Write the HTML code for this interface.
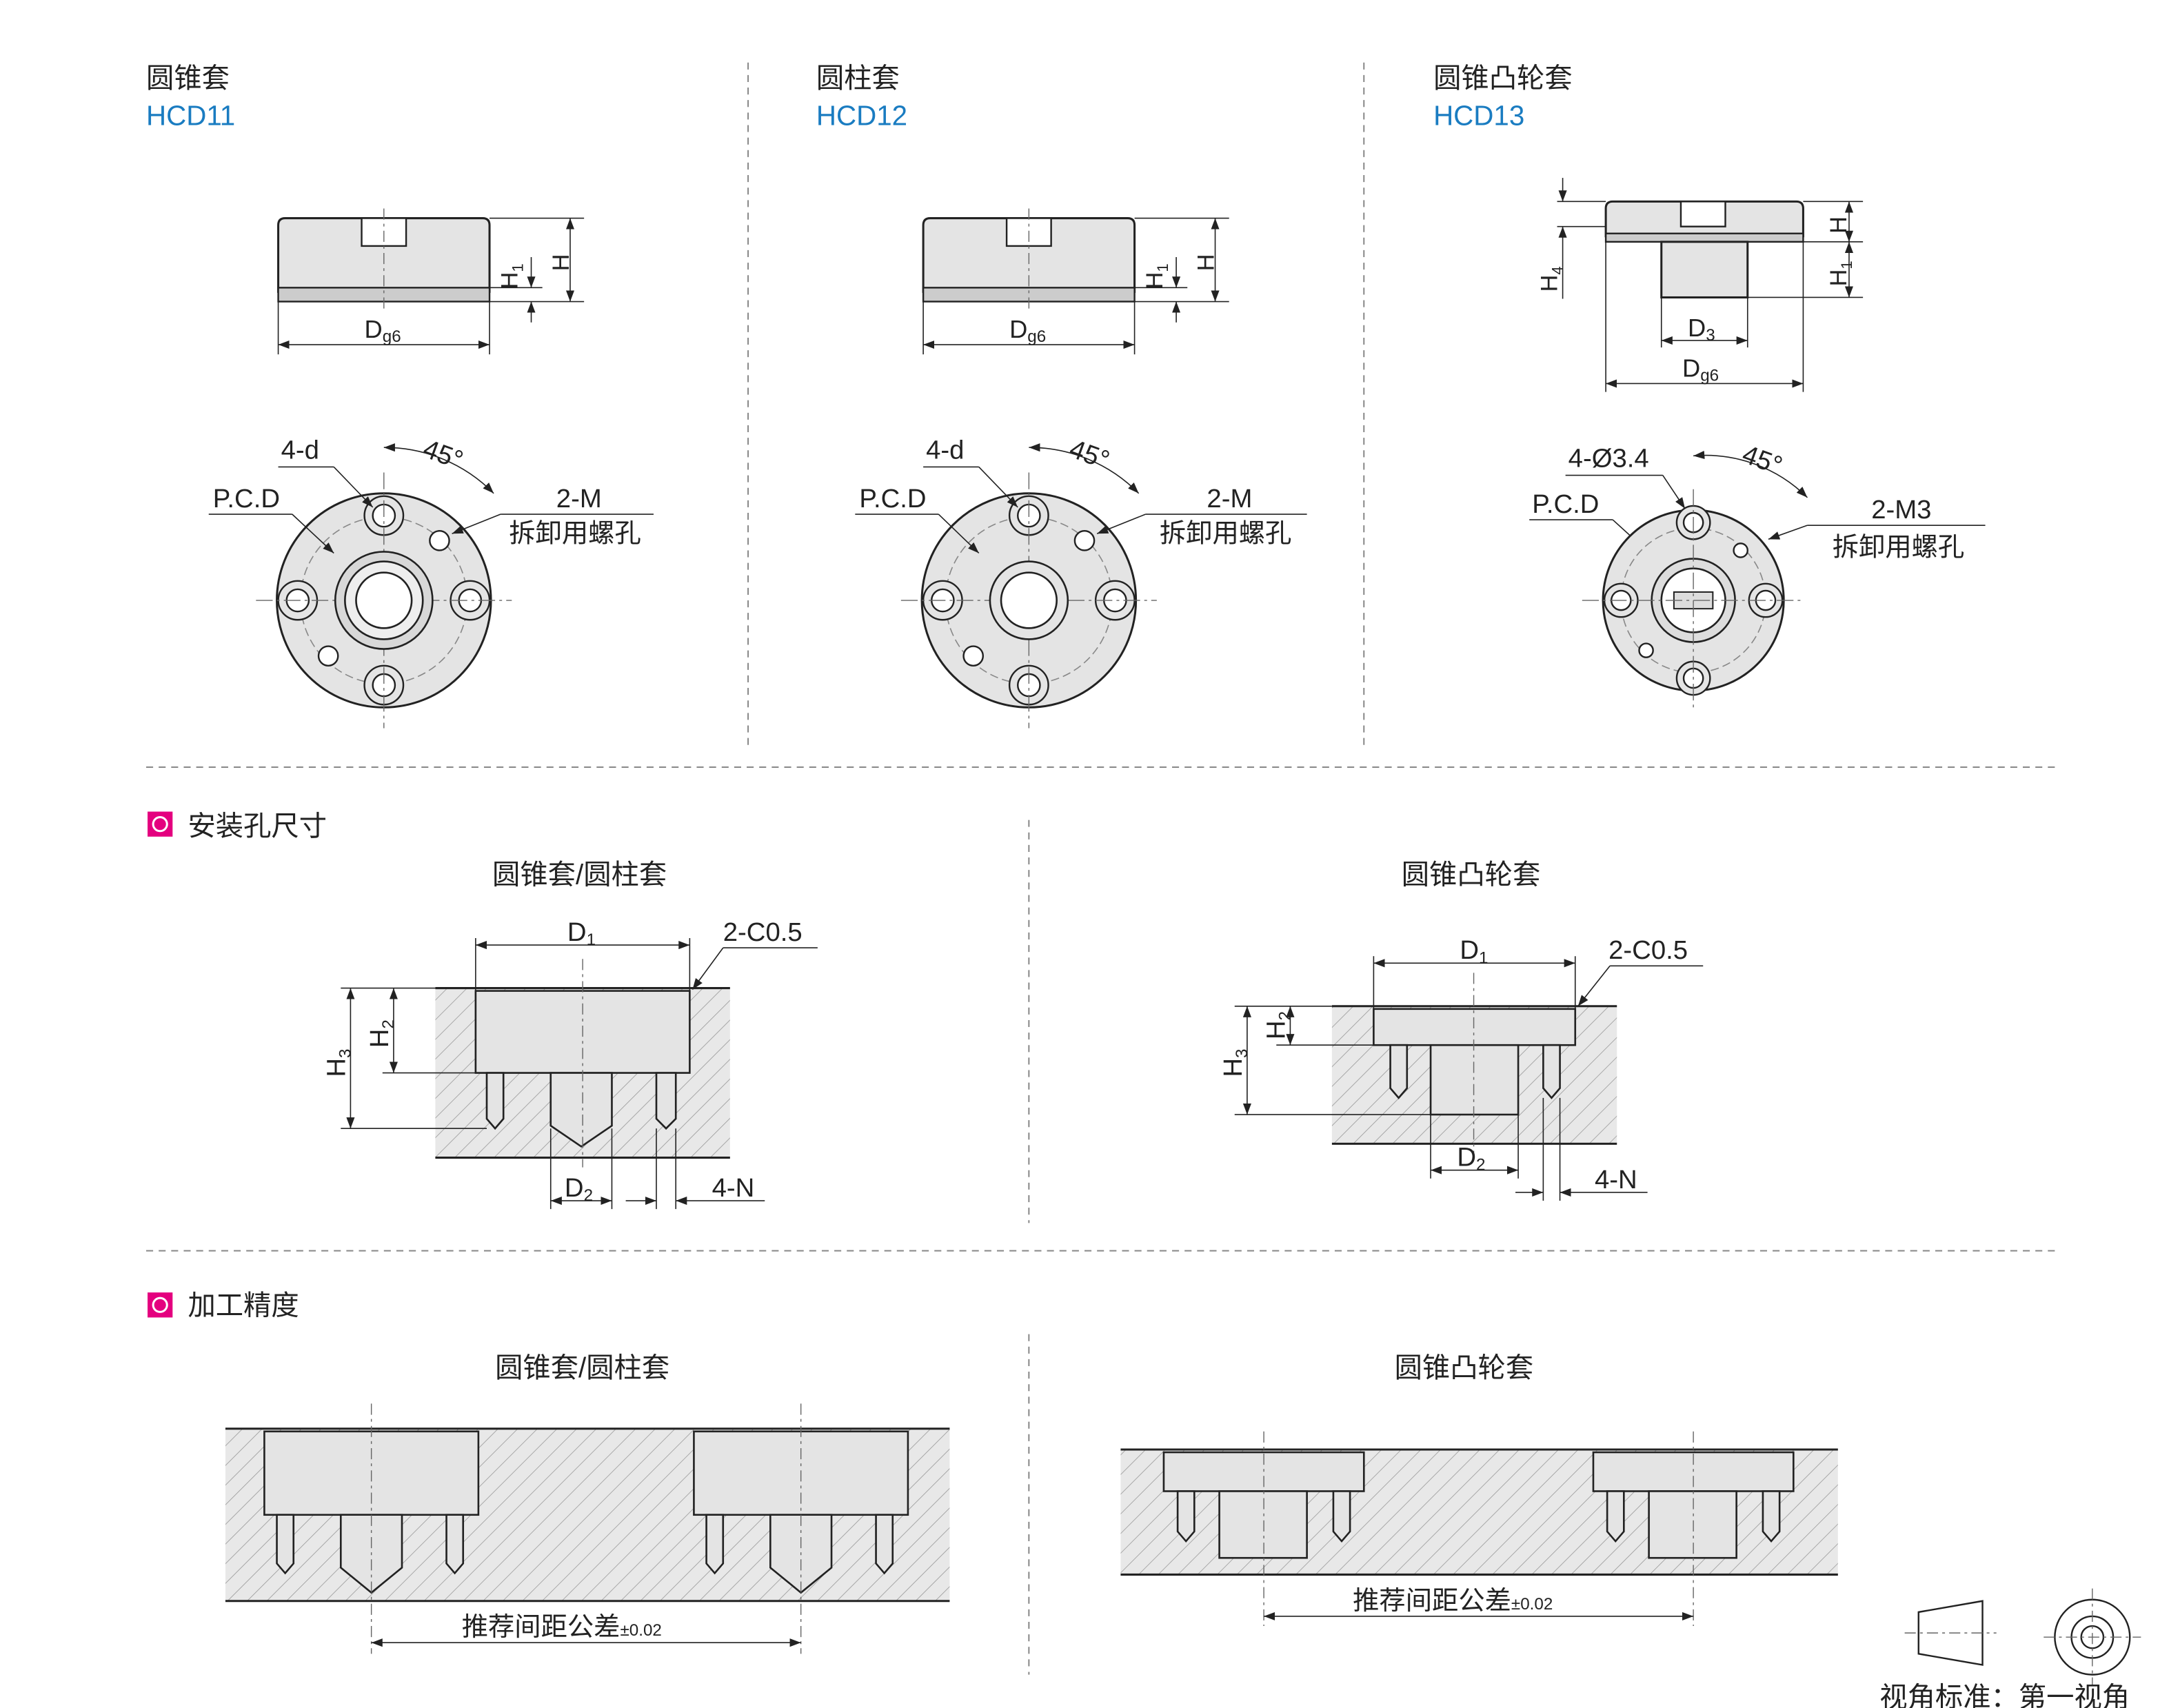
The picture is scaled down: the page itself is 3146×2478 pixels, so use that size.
<!DOCTYPE html>
<html><head><meta charset="utf-8"><style>
html,body{margin:0;padding:0;background:#fff}
svg{display:block}
text{font-family:"Liberation Sans","Noto Sans CJK SC",sans-serif;fill:#222}
</style></head><body>
<svg width="3146" height="2478" viewBox="0 0 1560 1229" xmlns="http://www.w3.org/2000/svg">
<defs>
<pattern id="h" width="10" height="10" patternUnits="userSpaceOnUse" patternTransform="rotate(45)">
<rect width="10" height="10" fill="#e8e8e8"/><line x1="0" y1="0" x2="0" y2="10" stroke="#999" stroke-width="0.8"/></pattern>
<marker id="a" markerWidth="8" markerHeight="6" refX="8" refY="3" orient="auto-start-reverse" markerUnits="userSpaceOnUse"><path d="M0,0L8,3L0,6z" fill="#222"/></marker>
<g id="front">
<circle r="77" fill="#e4e4e4" stroke="#222" stroke-width="1.5"/>
<circle r="60" fill="none" stroke="#888" stroke-dasharray="6 3" stroke-width="0.8"/>
<g fill="#e4e4e4" stroke="#222" stroke-width="1.2">
<circle cx="0" cy="-61" r="14"/><circle cx="0" cy="61" r="14"/><circle cx="-62" cy="0" r="14"/><circle cx="62" cy="0" r="14"/></g>
<g fill="#fff" stroke="#222" stroke-width="1.2">
<circle cx="0" cy="-61" r="8"/><circle cx="0" cy="61" r="8"/><circle cx="-62" cy="0" r="8"/><circle cx="62" cy="0" r="8"/>
<circle cx="40" cy="-43" r="7"/><circle cx="-40" cy="40" r="7"/></g>
<line x1="-92" y1="0" x2="92" y2="0" stroke="#666" stroke-width="0.7" stroke-dasharray="12 3 2 3"/>
<line x1="0" y1="-92" x2="0" y2="92" stroke="#666" stroke-width="0.7" stroke-dasharray="12 3 2 3"/>
</g>
</defs>
<g stroke="#888" stroke-width="1" stroke-dasharray="5 4" fill="none">
<line x1="538" y1="45" x2="538" y2="540"/><line x1="981" y1="45" x2="981" y2="540"/>
<line x1="105" y1="552" x2="1480" y2="552"/><line x1="740" y1="590" x2="740" y2="880"/>
<line x1="105" y1="900" x2="1480" y2="900"/><line x1="740" y1="960" x2="740" y2="1205"/>
</g>
<g font-size="20">
<text x="105" y="63">圆锥套</text><text x="105" y="90" style="fill:#1a7cc1">HCD11</text>
<text x="587" y="63">圆柱套</text><text x="587" y="90" style="fill:#1a7cc1">HCD12</text>
<text x="1031" y="63">圆锥凸轮套</text><text x="1031" y="90" style="fill:#1a7cc1">HCD13</text>
</g>
<g id="side1">
<path d="M200,210 V162 Q200,157 205,157 H347 Q352,157 352,162 V210 Z" fill="#e4e4e4" stroke="#222" stroke-width="1.5"/>
<rect x="260" y="157" width="32" height="20" fill="#fff" stroke="#222" stroke-width="1.2"/>
<rect x="200" y="207" width="152" height="10" fill="#ccc" stroke="#222" stroke-width="1.2"/>
<line x1="276" y1="150" x2="276" y2="225" stroke="#666" stroke-dasharray="8 3 2 3" stroke-width="0.7"/>
<g stroke="#222" stroke-width="0.8" fill="none">
<line x1="352" y1="157" x2="420" y2="157"/><line x1="352" y1="207" x2="390" y2="207"/><line x1="352" y1="217" x2="420" y2="217"/>
<line x1="382" y1="185" x2="382" y2="207" marker-end="url(#a)"/><line x1="382" y1="232" x2="382" y2="217" marker-end="url(#a)"/>
<line x1="410" y1="157" x2="410" y2="217" marker-start="url(#a)" marker-end="url(#a)"/>
<line x1="200" y1="217" x2="200" y2="255"/><line x1="352" y1="217" x2="352" y2="255"/>
<line x1="200" y1="248" x2="352" y2="248" marker-start="url(#a)" marker-end="url(#a)"/></g>
<text x="372" y="205" font-size="17" transform="rotate(-90 372 205)" dx="-3">H<tspan font-size="11" dy="4">1</tspan></text>
<text x="409" y="195" font-size="17" transform="rotate(-90 409 195)">H</text>
<text x="262" y="243" font-size="18">D<tspan font-size="12" dy="3">g6</tspan></text>
</g>
<use href="#side1" transform="translate(464,0)"/>
<g transform="translate(276,432)"><use href="#front"/>
<circle r="35" fill="#d8d8d8" stroke="#222" stroke-width="1.3"/><circle r="28" fill="#eee" stroke="#222" stroke-width="1.3"/><circle r="20" fill="#fff" stroke="#222" stroke-width="1.3"/></g>
<g transform="translate(740,432)"><use href="#front"/>
<circle r="28" fill="#e4e4e4" stroke="#222" stroke-width="1.3"/><circle r="20" fill="#fff" stroke="#222" stroke-width="1.3"/></g>
<g stroke="#222" stroke-width="0.8" fill="none">
<path d="M276,322 A110,110 0 0 1 355,355" marker-start="url(#a)" marker-end="url(#a)"/>
<path d="M740,322 A110,110 0 0 1 819,355" marker-start="url(#a)" marker-end="url(#a)"/>
<path d="M1218,328 A104,104 0 0 1 1300,358" marker-start="url(#a)" marker-end="url(#a)"/>
<line x1="200" y1="336" x2="240" y2="336"/><line x1="240" y1="336" x2="268" y2="365" marker-end="url(#a)"/>
<line x1="150" y1="370" x2="210" y2="370"/><line x1="210" y1="370" x2="240" y2="398" marker-end="url(#a)"/>
<line x1="470" y1="370" x2="360" y2="370"/><line x1="360" y1="370" x2="325" y2="384" marker-end="url(#a)"/>
<line x1="664" y1="336" x2="704" y2="336"/><line x1="704" y1="336" x2="732" y2="365" marker-end="url(#a)"/>
<line x1="615" y1="370" x2="675" y2="370"/><line x1="675" y1="370" x2="704" y2="398" marker-end="url(#a)"/>
<line x1="940" y1="370" x2="824" y2="370"/><line x1="824" y1="370" x2="789" y2="384" marker-end="url(#a)"/>
<line x1="1126" y1="342" x2="1196" y2="342"/><line x1="1196" y1="342" x2="1212" y2="366" marker-end="url(#a)"/>
<line x1="1100" y1="374" x2="1160" y2="374"/><line x1="1160" y1="374" x2="1182" y2="394" marker-end="url(#a)"/>
<line x1="1428" y1="378" x2="1300" y2="378"/><line x1="1300" y1="378" x2="1272" y2="388" marker-end="url(#a)"/>
</g>
<g font-size="19">
<text x="202" y="330">4-d</text><text x="303" y="328" transform="rotate(20 303 328)">45°</text>
<text x="153" y="365">P.C.D</text><text x="400" y="365">2-M</text><text x="366" y="390">拆卸用螺孔</text>
<text x="666" y="330">4-d</text><text x="768" y="328" transform="rotate(20 768 328)">45°</text>
<text x="618" y="365">P.C.D</text><text x="868" y="365">2-M</text><text x="834" y="390">拆卸用螺孔</text>
<text x="1128" y="336">4-Ø3.4</text><text x="1252" y="332" transform="rotate(20 1252 332)">45°</text>
<text x="1102" y="369">P.C.D</text><text x="1346" y="373">2-M3</text><text x="1318" y="400">拆卸用螺孔</text>
</g>
<g transform="translate(1218,432)">
<circle r="65" fill="#e4e4e4" stroke="#222" stroke-width="1.5"/>
<circle r="52" fill="none" stroke="#888" stroke-dasharray="6 3" stroke-width="0.8"/>
<g fill="#e4e4e4" stroke="#222" stroke-width="1.2"><circle cy="-56" r="12"/><circle cy="56" r="12"/><circle cx="-52" r="12"/><circle cx="52" r="12"/></g>
<g fill="#fff" stroke="#222" stroke-width="1.2"><circle cy="-56" r="7"/><circle cy="56" r="7"/><circle cx="-52" r="7"/><circle cx="52" r="7"/><circle cx="34" cy="-36" r="5"/><circle cx="-34" cy="36" r="5"/></g>
<circle r="30" fill="#ddd" stroke="#222" stroke-width="1.3"/><circle r="23" fill="#fff" stroke="#222" stroke-width="1.3"/>
<rect x="-14" y="-6" width="28" height="12" fill="#ddd" stroke="#222"/>
<line x1="-80" x2="80" stroke="#666" stroke-width="0.7" stroke-dasharray="12 3 2 3"/><line y1="-80" y2="80" stroke="#666" stroke-width="0.7" stroke-dasharray="12 3 2 3"/>
</g>
<path d="M1155,170 V150 Q1155,145 1160,145 H1292 Q1297,145 1297,150 V170 Z" fill="#e4e4e4" stroke="#222" stroke-width="1.5"/>
<rect x="1209" y="145" width="32" height="18" fill="#fff" stroke="#222" stroke-width="1.2"/>
<rect x="1155" y="168" width="142" height="6" fill="#ccc" stroke="#222" stroke-width="1.2"/>
<rect x="1195" y="174" width="62" height="40" fill="#e4e4e4" stroke="#222" stroke-width="1.5"/>
<g stroke="#222" stroke-width="0.8" fill="none">
<line x1="1120" y1="145" x2="1155" y2="145"/><line x1="1120" y1="163" x2="1155" y2="163"/>
<line x1="1124" y1="128" x2="1124" y2="145" marker-end="url(#a)"/><line x1="1124" y1="215" x2="1124" y2="163" marker-end="url(#a)"/>
<line x1="1297" y1="145" x2="1340" y2="145"/><line x1="1297" y1="174" x2="1340" y2="174"/><line x1="1257" y1="214" x2="1340" y2="214"/>
<line x1="1330" y1="145" x2="1330" y2="174" marker-start="url(#a)" marker-end="url(#a)"/>
<line x1="1330" y1="174" x2="1330" y2="214" marker-start="url(#a)" marker-end="url(#a)"/>
<line x1="1195" y1="214" x2="1195" y2="250"/><line x1="1257" y1="214" x2="1257" y2="250"/>
<line x1="1195" y1="245" x2="1257" y2="245" marker-start="url(#a)" marker-end="url(#a)"/>
<line x1="1155" y1="174" x2="1155" y2="282"/><line x1="1297" y1="174" x2="1297" y2="282"/>
<line x1="1155" y1="276" x2="1297" y2="276" marker-start="url(#a)" marker-end="url(#a)"/>
</g>
<text x="1120" y="210" font-size="17" transform="rotate(-90 1120 210)">H<tspan font-size="11" dy="4">4</tspan></text>
<text x="1328" y="168" font-size="17" transform="rotate(-90 1328 168)">H</text>
<text x="1328" y="206" font-size="17" transform="rotate(-90 1328 206)">H<tspan font-size="11" dy="4">1</tspan></text>
<text x="1214" y="242" font-size="18">D<tspan font-size="12" dy="3">3</tspan></text>
<text x="1210" y="271" font-size="18">D<tspan font-size="12" dy="3">g6</tspan></text>
<rect x="106" y="584" width="18" height="18" fill="#e4007f"/><circle cx="115" cy="593" r="5" fill="none" stroke="#fff" stroke-width="1.5"/>
<text x="135" y="601" font-size="20">安装孔尺寸</text>
<rect x="106" y="930" width="18" height="18" fill="#e4007f"/><circle cx="115" cy="939" r="5" fill="none" stroke="#fff" stroke-width="1.5"/>
<text x="135" y="946" font-size="20">加工精度</text>
<g font-size="20"><text x="354" y="636">圆锥套/圆柱套</text><text x="1008" y="636">圆锥凸轮套</text>
<text x="356" y="991">圆锥套/圆柱套</text><text x="1003" y="991">圆锥凸轮套</text></g>
<rect x="313" y="711" width="212" height="122" fill="url(#h)"/>
<g stroke="#222" stroke-width="1.5"><line x1="313" y1="711" x2="525" y2="711"/><line x1="313" y1="833" x2="525" y2="833"/></g>
<g fill="#e4e4e4" stroke="#222" stroke-width="1.3">
<rect x="342" y="713" width="154" height="59"/>
<path d="M350,772 V805 L356,812 L362,805 V772Z"/><path d="M472,772 V805 L479,812 L486,805 V772Z"/>
<path d="M396,772 V810 L418,825 L440,810 V772Z"/></g>
<line x1="419" y1="690" x2="419" y2="840" stroke="#666" stroke-dasharray="8 3 2 3" stroke-width="0.7"/>
<g stroke="#222" stroke-width="0.8" fill="none">
<line x1="342" y1="675" x2="342" y2="713"/><line x1="496" y1="675" x2="496" y2="713"/>
<line x1="342" y1="680" x2="496" y2="680" marker-start="url(#a)" marker-end="url(#a)"/>
<line x1="588" y1="682" x2="520" y2="682"/><line x1="520" y1="682" x2="498" y2="712" marker-end="url(#a)"/>
<line x1="245" y1="711" x2="313" y2="711"/><line x1="275" y1="772" x2="342" y2="772"/><line x1="245" y1="812" x2="350" y2="812"/>
<line x1="252" y1="711" x2="252" y2="812" marker-start="url(#a)" marker-end="url(#a)"/>
<line x1="283" y1="711" x2="283" y2="772" marker-start="url(#a)" marker-end="url(#a)"/>
<line x1="396" y1="812" x2="396" y2="870"/><line x1="440" y1="812" x2="440" y2="870"/>
<line x1="396" y1="864" x2="440" y2="864" marker-start="url(#a)" marker-end="url(#a)"/>
<line x1="472" y1="812" x2="472" y2="870"/><line x1="486" y1="812" x2="486" y2="870"/>
<line x1="450" y1="864" x2="472" y2="864" marker-end="url(#a)"/><line x1="550" y1="864" x2="486" y2="864" marker-end="url(#a)"/>
</g>
<g font-size="19"><text x="408" y="677">D<tspan font-size="12" dy="3">1</tspan></text><text x="520" y="677">2-C0.5</text>
<text x="406" y="861">D<tspan font-size="12" dy="3">2</tspan></text><text x="512" y="861">4-N</text>
<text x="248" y="775" transform="rotate(-90 248 775)">H<tspan font-size="12" dy="4">3</tspan></text>
<text x="279" y="754" transform="rotate(-90 279 754)">H<tspan font-size="12" dy="4">2</tspan></text></g>
<rect x="958" y="724" width="205" height="99" fill="url(#h)"/>
<g stroke="#222" stroke-width="1.5"><line x1="958" y1="724" x2="1163" y2="724"/><line x1="958" y1="823" x2="1163" y2="823"/></g>
<g fill="#e4e4e4" stroke="#222" stroke-width="1.3">
<rect x="988" y="726" width="145" height="26"/><rect x="1029" y="752" width="63" height="50"/>
<path d="M1000,752 V783 L1006,790 L1012,783 V752Z"/><path d="M1110,752 V783 L1116,790 L1122,783 V752Z"/></g>
<line x1="1060" y1="700" x2="1060" y2="830" stroke="#666" stroke-dasharray="8 3 2 3" stroke-width="0.7"/>
<g stroke="#222" stroke-width="0.8" fill="none">
<line x1="988" y1="688" x2="988" y2="726"/><line x1="1133" y1="688" x2="1133" y2="726"/>
<line x1="988" y1="693" x2="1133" y2="693" marker-start="url(#a)" marker-end="url(#a)"/>
<line x1="1225" y1="695" x2="1158" y2="695"/><line x1="1158" y1="695" x2="1135" y2="724" marker-end="url(#a)"/>
<line x1="888" y1="724" x2="958" y2="724"/><line x1="918" y1="752" x2="988" y2="752"/><line x1="888" y1="802" x2="1029" y2="802"/>
<line x1="897" y1="724" x2="897" y2="802" marker-start="url(#a)" marker-end="url(#a)"/>
<line x1="928" y1="724" x2="928" y2="752" marker-start="url(#a)" marker-end="url(#a)"/>
<line x1="1029" y1="802" x2="1029" y2="848"/><line x1="1092" y1="802" x2="1092" y2="848"/>
<line x1="1029" y1="842" x2="1092" y2="842" marker-start="url(#a)" marker-end="url(#a)"/>
<line x1="1110" y1="790" x2="1110" y2="864"/><line x1="1122" y1="790" x2="1122" y2="864"/>
<line x1="1090" y1="858" x2="1110" y2="858" marker-end="url(#a)"/><line x1="1185" y1="858" x2="1122" y2="858" marker-end="url(#a)"/>
</g>
<g font-size="19"><text x="1050" y="690">D<tspan font-size="12" dy="3">1</tspan></text><text x="1157" y="690">2-C0.5</text>
<text x="1048" y="839">D<tspan font-size="12" dy="3">2</tspan></text><text x="1147" y="855">4-N</text>
<text x="893" y="775" transform="rotate(-90 893 775)">H<tspan font-size="12" dy="4">3</tspan></text>
<text x="924" y="748" transform="rotate(-90 924 748)">H<tspan font-size="12" dy="4">2</tspan></text></g>
<rect x="162" y="1028" width="521" height="124" fill="url(#h)"/>
<g stroke="#222" stroke-width="1.5"><line x1="162" y1="1028" x2="683" y2="1028"/><line x1="162" y1="1152" x2="683" y2="1152"/></g>
<g id="pl" fill="#e4e4e4" stroke="#222" stroke-width="1.3">
<rect x="190" y="1030" width="154" height="60"/>
<path d="M199,1090 V1125 L205,1132 L211,1125 V1090Z"/><path d="M321,1090 V1125 L327,1132 L333,1125 V1090Z"/>
<path d="M245,1090 V1128 L267,1146 L289,1128 V1090Z"/>
<line x1="267" y1="1010" x2="267" y2="1190" stroke="#666" stroke-dasharray="8 3 2 3" stroke-width="0.7" fill="none"/></g>
<use href="#pl" transform="translate(309,0)"/>
<g stroke="#222" stroke-width="0.8"><line x1="267" y1="1182" x2="576" y2="1182" marker-start="url(#a)" marker-end="url(#a)"/></g>
<text x="332" y="1177" font-size="19">推荐间距公差<tspan font-size="12">±0.02</tspan></text>
<rect x="806" y="1043" width="516" height="90" fill="url(#h)"/>
<g stroke="#222" stroke-width="1.5"><line x1="806" y1="1043" x2="1322" y2="1043"/><line x1="806" y1="1133" x2="1322" y2="1133"/></g>
<g id="pr" fill="#e4e4e4" stroke="#222" stroke-width="1.3">
<rect x="837" y="1045" width="144" height="28"/><rect x="877" y="1073" width="63" height="48"/>
<path d="M847,1073 V1102 L853,1109 L859,1102 V1073Z"/><path d="M959,1073 V1102 L965,1109 L971,1102 V1073Z"/>
<line x1="909" y1="1030" x2="909" y2="1170" stroke="#666" stroke-dasharray="8 3 2 3" stroke-width="0.7" fill="none"/></g>
<use href="#pr" transform="translate(309,0)"/>
<g stroke="#222" stroke-width="0.8"><line x1="909" y1="1163" x2="1218" y2="1163" marker-start="url(#a)" marker-end="url(#a)"/></g>
<text x="973" y="1158" font-size="19">推荐间距公差<tspan font-size="12">±0.02</tspan></text>
<path d="M1380,1160 L1426,1152 V1198 L1380,1190Z" fill="#fff" stroke="#222" stroke-width="1.2"/>
<line x1="1370" y1="1175" x2="1436" y2="1175" stroke="#666" stroke-dasharray="8 3 2 3" stroke-width="0.7"/>
<g fill="none" stroke="#222" stroke-width="1.2"><circle cx="1505" cy="1178" r="27"/><circle cx="1505" cy="1178" r="15"/><circle cx="1505" cy="1178" r="8"/></g>
<line x1="1470" y1="1178" x2="1540" y2="1178" stroke="#666" stroke-dasharray="8 3 2 3" stroke-width="0.7"/>
<line x1="1505" y1="1143" x2="1505" y2="1213" stroke="#666" stroke-dasharray="8 3 2 3" stroke-width="0.7"/>
<text x="1352" y="1228" font-size="20">视角标准：第一视角</text>
</svg>
</body></html>
